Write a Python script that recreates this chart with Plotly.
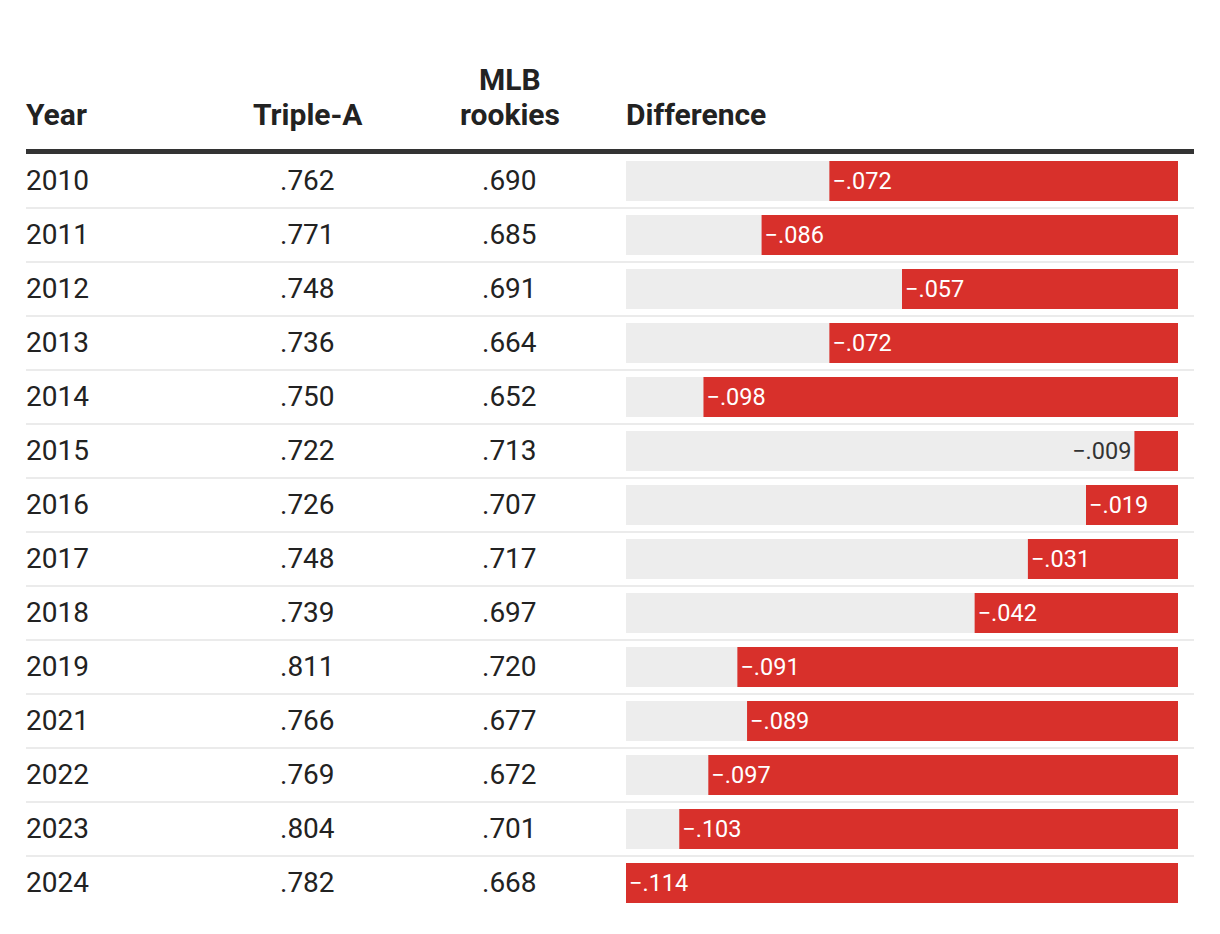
import plotly.graph_objects as go

years = ["2010", "2011", "2012", "2013", "2014", "2015", "2016", "2017", "2018", "2019", "2021", "2022", "2023", "2024"]
triple_a = [0.762, 0.771, 0.748, 0.736, 0.750, 0.722, 0.726, 0.748, 0.739, 0.811, 0.766, 0.769, 0.804, 0.782]
rookies = [0.690, 0.685, 0.691, 0.664, 0.652, 0.713, 0.707, 0.717, 0.697, 0.720, 0.677, 0.672, 0.701, 0.668]
headers = ["Year", "Triple-A", "rookies", "Difference"]
header_top = "MLB"

W, H = 1220, 934
OFF = 8  # page body margin
RED = "#D8302B"
GRAY = "#EDEDED"
TXT = "#222222"
FONT = "Roboto"


def fmt(v):
    s = f"{abs(v):.3f}"
    s = s[1:] if s.startswith("0") else s
    return ("\u2212" if v < 0 else "") + s


diff = [round(r - t, 3) for t, r in zip(triple_a, rookies)]
mag = [abs(d) for d in diff]
maxmag = max(mag)

# layout geometry (screen pixels, converted to figure pixels by OFF)
row0, rowh = 181 - OFF, 54
bar_l, bar_r = 626 - OFF, 1178 - OFF
tbl_l, tbl_r = 26 - OFF, 1194 - OFF
col_year, col_ta, col_rk = 24 - OFF, 307.5 - OFF, 509.5 - OFF
col_diff_hdr = 624 - OFF

n = len(years)
y_top = (0 - row0) / rowh
y_bot = (H - row0) / rowh

labels = [fmt(d) for d in diff]
fits = [m / maxmag * (bar_r - bar_l) > 70 for m in mag]
textpos = ["inside" if f else "outside" for f in fits]

fig = go.Figure()
fig.add_trace(go.Bar(
    y=years, x=[maxmag] * n, orientation="h",
    marker=dict(color=GRAY, line=dict(width=0)), width=0.74,
    hoverinfo="skip", showlegend=False,
))
fig.add_trace(go.Bar(
    y=years, x=mag, orientation="h",
    marker=dict(color=RED, line=dict(width=0)), width=0.74,
    text=labels, textposition=textpos, insidetextanchor="end",
    insidetextfont=dict(family=FONT, size=23.5, color="white"),
    outsidetextfont=dict(family=FONT, size=23.5, color="#333333"),
    constraintext="none", cliponaxis=False, textangle=0,
    showlegend=False,
))

fig.update_layout(
    width=W, height=H,
    margin=dict(l=0, r=0, t=0, b=0),
    paper_bgcolor="white", plot_bgcolor="white",
    barmode="overlay",
    font=dict(family=FONT, color=TXT),
    xaxis=dict(domain=[bar_l / W, bar_r / W], range=[maxmag, 0],
               visible=False, fixedrange=True),
    yaxis=dict(type="category", categoryorder="array", categoryarray=years,
               range=[y_bot, y_top], domain=[0, 1], visible=False, fixedrange=True),
)

shapes = []
hdr_y = (151.5 - OFF - row0) / rowh
shapes.append(dict(type="line", xref="paper", yref="y", x0=tbl_l / W, x1=tbl_r / W,
                   y0=hdr_y, y1=hdr_y, line=dict(color="#333333", width=5)))
for i in range(n - 1):
    shapes.append(dict(type="line", xref="paper", yref="y", x0=tbl_l / W, x1=tbl_r / W,
                       y0=i + 0.5, y1=i + 0.5, line=dict(color="#EBEBEB", width=2), layer="below"))
fig.update_layout(shapes=shapes)

ann = []
RS = 28
dy = -1 / rowh
for i, yr in enumerate(years):
    ann.append(dict(x=col_year / W, xref="paper", y=i + dy, yref="y", text=yr, showarrow=False,
                    xanchor="left", yanchor="middle", font=dict(size=RS, color=TXT)))
    ann.append(dict(x=col_ta / W, xref="paper", y=i + dy, yref="y", text=fmt(triple_a[i]), showarrow=False,
                    xanchor="center", yanchor="middle", font=dict(size=RS, color=TXT)))
    ann.append(dict(x=col_rk / W, xref="paper", y=i + dy, yref="y", text=fmt(rookies[i]), showarrow=False,
                    xanchor="center", yanchor="middle", font=dict(size=RS, color=TXT)))

HS = 30
hdr_base = (126 - OFF + 8 - row0) / rowh
hdr_top = (91 - OFF + 8 - row0) / rowh
hdr_x = [(col_year, "left"), (col_ta, "center"), (col_rk, "center"), (col_diff_hdr, "left")]
for (hx, anc), h in zip(hdr_x, headers):
    ann.append(dict(x=hx / W, xref="paper", y=hdr_base, yref="y", text=f"<b>{h}</b>",
                    showarrow=False, xanchor=anc, yanchor="bottom",
                    font=dict(size=HS, color=TXT)))
ann.append(dict(x=col_rk / W, xref="paper", y=hdr_top, yref="y", text=f"<b>{header_top}</b>",
                showarrow=False, xanchor="center", yanchor="bottom",
                font=dict(size=HS, color=TXT)))
fig.update_layout(annotations=ann)

fig.write_html("out.html")
